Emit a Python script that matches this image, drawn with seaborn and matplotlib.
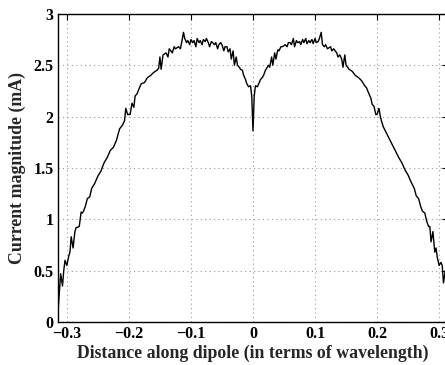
import matplotlib
matplotlib.use("Agg")
import matplotlib.pyplot as plt
import seaborn as sns
import pandas as pd

# distance along dipole (wavelengths)
pos_left = [-0.3145, -0.312, -0.310, -0.307, -0.305, -0.303, -0.300, -0.297, -0.295,
            -0.293, -0.290, -0.287, -0.285, -0.283, -0.280, -0.277, -0.275, -0.273,
            -0.270, -0.267, -0.263, -0.260, -0.255, -0.250, -0.245, -0.240, -0.235,
            -0.230, -0.225, -0.220, -0.215, -0.210, -0.207, -0.205, -0.202, -0.198,
            -0.195, -0.192, -0.190, -0.187, -0.183, -0.180, -0.175, -0.170, -0.165,
            -0.160, -0.155, -0.152, -0.150, -0.148, -0.145, -0.140, -0.137, -0.135,
            -0.130, -0.127, -0.125, -0.120, -0.117, -0.115, -0.112, -0.110, -0.107,
            -0.105, -0.102, -0.100, -0.097, -0.095, -0.092, -0.090, -0.087, -0.085,
            -0.082, -0.080, -0.077, -0.075, -0.072, -0.070, -0.067, -0.065, -0.062,
            -0.060, -0.057, -0.055, -0.052, -0.050, -0.047, -0.045, -0.042, -0.040,
            -0.037, -0.035, -0.032, -0.030, -0.027, -0.025, -0.022, -0.020, -0.017,
            -0.015, -0.012, -0.010, -0.007, -0.004, -0.002]
pos_center = [0.0]
pos_right = [0.002, 0.004, 0.007, 0.010, 0.012, 0.015, 0.017, 0.020, 0.022, 0.025,
             0.027, 0.030, 0.032, 0.035, 0.037, 0.040, 0.042, 0.045, 0.047, 0.050,
             0.052, 0.055, 0.057, 0.060, 0.062, 0.065, 0.067, 0.070, 0.072, 0.075,
             0.077, 0.080, 0.082, 0.085, 0.087, 0.090, 0.092, 0.095, 0.097, 0.100,
             0.102, 0.105, 0.107, 0.110, 0.112, 0.115, 0.117, 0.120, 0.125, 0.127,
             0.130, 0.135, 0.137, 0.140, 0.143, 0.145, 0.148, 0.150, 0.155, 0.160,
             0.165, 0.170, 0.175, 0.180, 0.183, 0.187, 0.190, 0.192, 0.195, 0.198,
             0.200, 0.203, 0.205, 0.207, 0.210, 0.215, 0.220, 0.225, 0.230, 0.235,
             0.240, 0.245, 0.250, 0.255, 0.260, 0.263, 0.267, 0.270, 0.273, 0.275,
             0.277, 0.280, 0.283, 0.285, 0.287, 0.290, 0.293, 0.295, 0.297, 0.300,
             0.303, 0.305, 0.307, 0.310, 0.312, 0.3145]

# current magnitude (mA)
cur_left = [0.08, 0.30, 0.47, 0.35, 0.50, 0.60, 0.55, 0.64, 0.68,
            0.83, 0.72, 0.88, 0.92, 0.92, 0.93, 1.07, 1.06, 1.08,
            1.13, 1.20, 1.22, 1.30, 1.35, 1.42, 1.47, 1.55, 1.60,
            1.67, 1.70, 1.77, 1.88, 1.92, 1.96, 2.08, 2.02, 2.02,
            2.13, 2.09, 2.20, 2.22, 2.28, 2.32, 2.33, 2.38, 2.40,
            2.43, 2.45, 2.47, 2.58, 2.46, 2.60, 2.62, 2.58, 2.66,
            2.62, 2.68, 2.66, 2.68, 2.66, 2.72, 2.82, 2.76, 2.72,
            2.74, 2.70, 2.75, 2.72, 2.74, 2.68, 2.76, 2.72, 2.74,
            2.70, 2.75, 2.73, 2.76, 2.72, 2.68, 2.73, 2.72, 2.70,
            2.72, 2.66, 2.70, 2.72, 2.70, 2.64, 2.68, 2.68, 2.63,
            2.66, 2.56, 2.64, 2.50, 2.58, 2.50, 2.48, 2.46, 2.45,
            2.40, 2.36, 2.32, 2.29, 2.30, 2.20]
cur_center = [1.86]
cur_right = [2.20, 2.30, 2.29, 2.33, 2.36, 2.38, 2.40, 2.45, 2.47, 2.50,
             2.48, 2.58, 2.50, 2.62, 2.56, 2.65, 2.64, 2.68, 2.68, 2.69,
             2.70, 2.68, 2.72, 2.72, 2.70, 2.76, 2.68, 2.74, 2.72, 2.73,
             2.70, 2.75, 2.72, 2.76, 2.71, 2.74, 2.72, 2.75, 2.71, 2.76,
             2.72, 2.73, 2.76, 2.82, 2.70, 2.68, 2.70, 2.66, 2.68, 2.64,
             2.66, 2.62, 2.58, 2.60, 2.56, 2.48, 2.60, 2.50, 2.46, 2.44,
             2.40, 2.38, 2.35, 2.30, 2.28, 2.22, 2.18, 2.12, 2.10, 2.02,
             2.02, 2.08, 2.01, 1.96, 1.90, 1.84, 1.78, 1.72, 1.66, 1.60,
             1.55, 1.48, 1.43, 1.36, 1.30, 1.23, 1.20, 1.13, 1.08, 1.07,
             1.06, 0.98, 0.93, 0.93, 0.78, 0.88, 0.68, 0.72, 0.63, 0.55,
             0.58, 0.55, 0.38, 0.50, 0.42, 0.35]

df = pd.DataFrame({
    "distance": pos_left + pos_center + pos_right,
    "current": cur_left + cur_center + cur_right,
})

sns.set_style("white")
plt.rcParams["font.family"] = ["Liberation Serif", "DejaVu Serif"]
plt.rcParams["font.weight"] = "bold"

fig = plt.figure(figsize=(4.45, 3.65), dpi=100)
ax = fig.add_axes([0.130, 0.118, 0.877, 0.844])

sns.lineplot(data=df, x="distance", y="current", color="black", linewidth=1.0,
             sort=False, estimator=None, ax=ax)

ax.set_xlim(-0.3145, 0.3145)
ax.set_ylim(0, 3)
ax.set_xticks([-0.3, -0.2, -0.1, 0, 0.1, 0.2, 0.3])
ax.set_xticklabels(["\u22120.3", "\u22120.2", "\u22120.1", "0", "0.1", "0.2", "0.3"])
ax.set_yticks([0, 0.5, 1, 1.5, 2, 2.5, 3])
ax.set_yticklabels(["0", "0.5", "1", "1.5", "2", "2.5", "3"])

ax.grid(True, linestyle=(0, (1, 3)), color="#999999", linewidth=0.8)
ax.tick_params(direction="in", length=4, width=0.8, labelsize=11.5, pad=3,
               top=True, right=True, colors="black")
for label in ax.get_xticklabels() + ax.get_yticklabels():
    label.set_fontweight("bold")
for spine in ax.spines.values():
    spine.set_color("black")
    spine.set_linewidth(1.0)

ax.set_xlabel("Distance along dipole (in terms of wavelength)", fontsize=12.8,
              fontweight="bold", labelpad=2)
ax.set_ylabel("Current magnitude (mA)", fontsize=12.8, fontweight="bold", labelpad=5)

fig.savefig("out.png", dpi=100)
